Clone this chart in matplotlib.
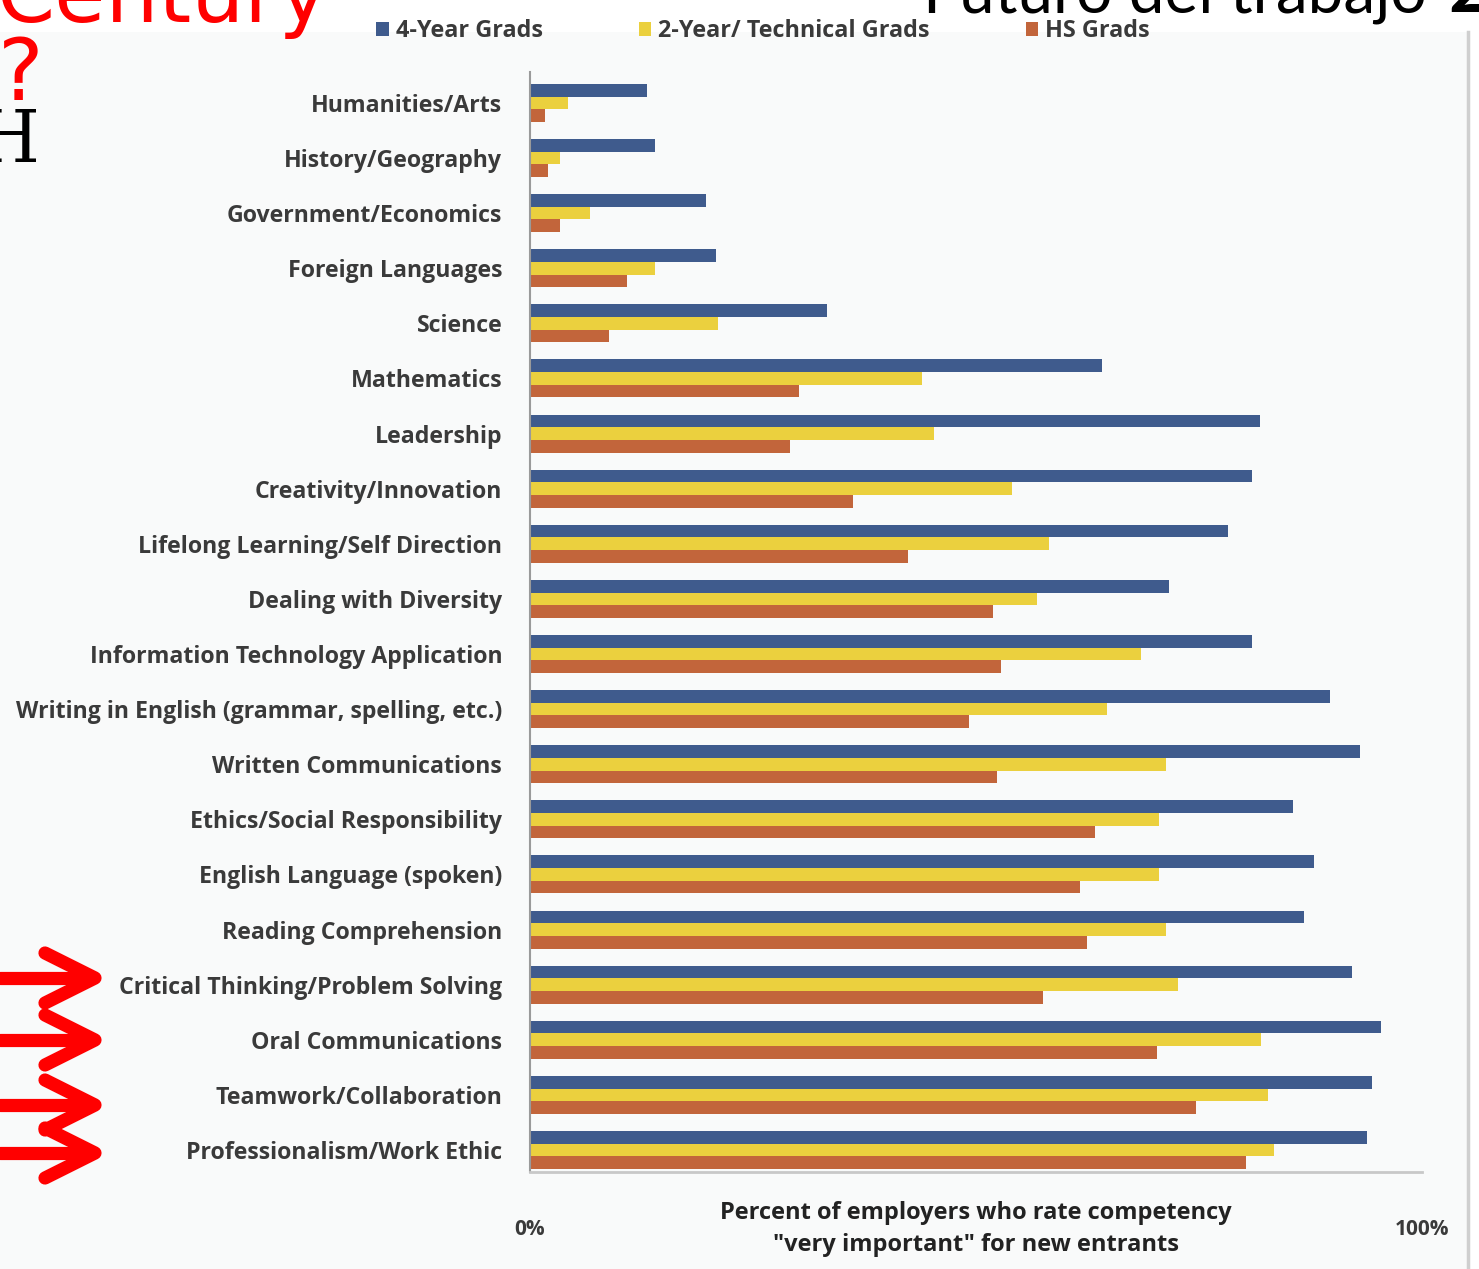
import matplotlib.pyplot as plt
from matplotlib.lines import Line2D
from matplotlib.patches import Rectangle
import numpy as np

W, H = 1479, 1269

categories = [
    'Humanities/Arts', 'History/Geography', 'Government/Economics',
    'Foreign Languages', 'Science', 'Mathematics', 'Leadership',
    'Creativity/Innovation', 'Lifelong Learning/Self Direction',
    'Dealing with Diversity', 'Information Technology Application',
    'Writing in English (grammar, spelling, etc.)', 'Written Communications',
    'Ethics/Social Responsibility', 'English Language (spoken)',
    'Reading Comprehension', 'Critical Thinking/Problem Solving',
    'Oral Communications', 'Teamwork/Collaboration',
    'Professionalism/Work Ethic',
]
four_year = [13.1, 14.0, 19.7, 20.9, 33.3, 64.1, 81.8, 80.9, 78.3, 71.6,
             80.9, 89.7, 93.0, 85.5, 87.9, 86.8, 92.1, 95.4, 94.4, 93.8]
two_year = [4.3, 3.4, 6.7, 14.0, 21.1, 43.9, 45.3, 54.0, 58.2, 56.8,
            68.5, 64.7, 71.3, 70.5, 70.5, 71.3, 72.7, 82.0, 82.7, 83.4]
hs_grads = [1.7, 2.0, 3.4, 10.9, 8.9, 30.2, 29.1, 36.2, 42.4, 51.9,
            52.8, 49.2, 52.4, 63.3, 61.7, 62.4, 57.5, 70.3, 74.7, 80.3]
series_names = ['4-Year Grads', '2-Year/ Technical Grads', 'HS Grads']
colors = ['#3f5b8d', '#ebd03e', '#c2653b']

txt = '#3a3a3a'
font = 'Open Sans'


def fx(x):
    return x / W


def fy(y):
    return 1 - y / H


fig = plt.figure(figsize=(W / 100, H / 100), dpi=100, facecolor='white')

# light slide panel behind the chart
fig.patches.append(Rectangle((0, 0), fx(1468), fy(32), transform=fig.transFigure,
                             facecolor='#f9fafa', edgecolor='none', zorder=-5))
fig.lines.append(Line2D([fx(1468), fx(1468)], [fy(32), 0], transform=fig.transFigure,
                        color='#cfcfcf', lw=2.5))

ax = fig.add_axes([fx(530), fy(1172), fx(1422) - fx(530), fy(72) - fy(1172)])
ax.set_facecolor('none')

y = np.arange(len(categories))
bh = 0.23
for k, (vals, name, c) in enumerate(zip([four_year, two_year, hs_grads], series_names, colors)):
    ax.barh(y + (k - 1) * bh, vals, height=bh, color=c, label=name)

ax.set_ylim(19.4, -0.56)
ax.set_xlim(0, 100)
ax.set_yticks(y)
ax.set_yticklabels(categories, fontsize=16.7, fontweight='bold', color=txt, family=font)
ax.set_xticks([0, 100])
ax.set_xticklabels(['0%', '100%'], fontsize=15, fontweight='bold', color=txt, family=font)
ax.tick_params(axis='y', length=0, pad=20)
ax.tick_params(axis='x', length=0, pad=34)
for s in ['top', 'right']:
    ax.spines[s].set_visible(False)
ax.spines['left'].set_color('#9a9a9a')
ax.spines['bottom'].set_color('#c8c8c8')
ax.spines['left'].set_linewidth(1.5)
ax.spines['bottom'].set_linewidth(2)

fig.text(fx(976), fy(1229), 'Percent of employers who rate competency\n"very important" for new entrants',
         ha='center', va='center', fontsize=17, fontweight='bold', color='#222222',
         family=font, linespacing=1.4)

handles, labels = ax.get_legend_handles_labels()
fig.legend(handles, labels, loc='center', bbox_to_anchor=(fx(763), fy(31)), ncol=3,
           frameon=False, handlelength=0.55, handleheight=0.55, handletextpad=0.3,
           columnspacing=4.1, prop={'family': font, 'weight': 'bold', 'size': 16.8},
           labelcolor=txt)

# slide decorations
fig.text(fx(-4), fy(22), 'Century', color='#ff0000', fontsize=60, family='DejaVu Sans',
         ha='left', va='baseline')
fig.text(fx(-2), fy(100), '?', color='#ff0000', fontsize=62, family='DejaVu Sans',
         ha='left', va='baseline')
fig.text(fx(40), fy(162), 'H', color='black', fontsize=52, family='DejaVu Serif',
         ha='right', va='baseline')
fig.text(fx(1427), fy(12), 'Futuro del trabajo', color='black', fontsize=46, family='Lato',
         ha='right', va='baseline')
fig.text(fx(1448), fy(12), '2', color='black', fontsize=52, family='Lato', fontweight='bold',
         ha='left', va='baseline')

# red arrows pointing at the highlighted competencies
for yc in [978, 1040, 1105, 1153]:
    fig.lines.append(Line2D([0, fx(92)], [fy(yc), fy(yc)], transform=fig.transFigure,
                            color='#ff0000', lw=9.5, solid_capstyle='round'))
    fig.lines.append(Line2D([fx(45), fx(95), fx(45)], [fy(yc - 25), fy(yc), fy(yc + 25)],
                            transform=fig.transFigure, color='#ff0000', lw=9.5,
                            solid_capstyle='round', solid_joinstyle='round'))

fig.savefig('out.png', dpi=100, facecolor=fig.get_facecolor())
